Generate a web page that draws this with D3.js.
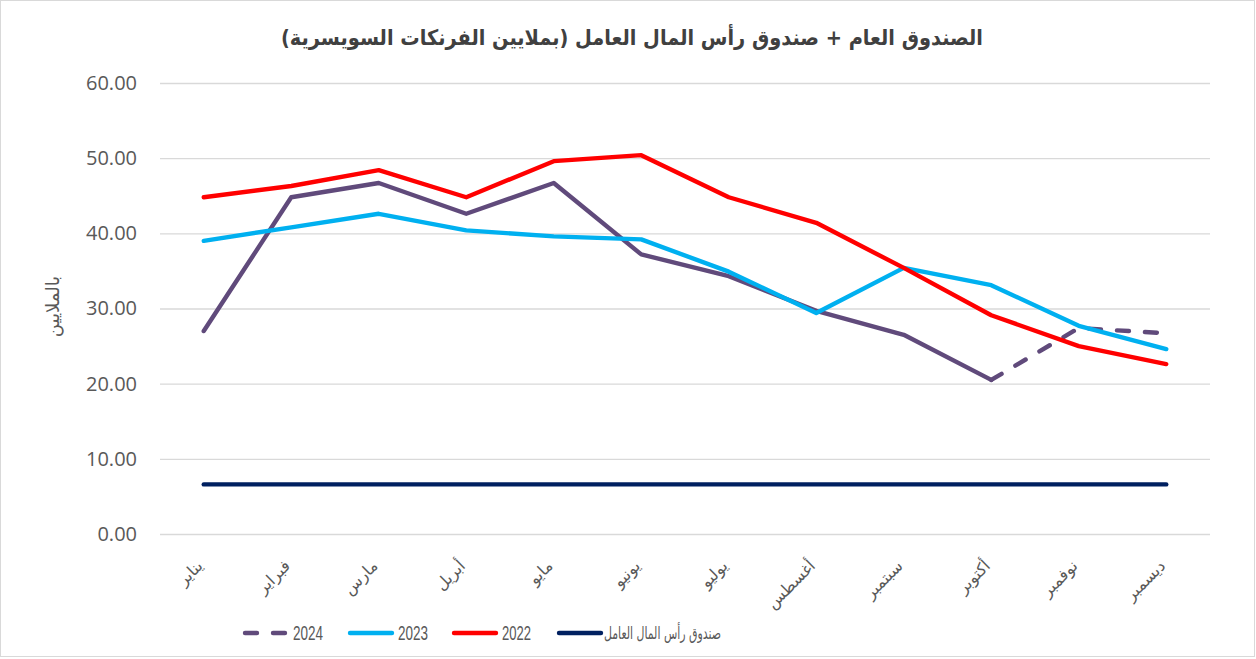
<!DOCTYPE html>
<html>
<head>
<meta charset="utf-8">
<script src="https://cdn.jsdelivr.net/npm/d3@7"></script>
<style>
  body { margin: 0; background: #fff; }
  svg { display: block; font-family: "Liberation Sans", "DejaVu Sans", sans-serif; }
</style>
</head>
<body>
<svg id="chart" width="1256" height="659"></svg>
<script>
// DATA
var months = ["يناير", "فبراير", "مارس", "أبريل", "مايو", "يونيو", "يوليو", "أغسطس", "سبتمبر", "أكتوبر", "نوفمبر", "ديسمبر"];
var yTicks = [0, 10, 20, 30, 40, 50, 60];
var values2024 = [27.0, 44.8, 46.7, 42.6, 46.7, 37.2, 34.3, 29.7, 26.5, 20.5, 27.4, 26.7];
var values2023 = [39.0, 40.8, 42.6, 40.4, 39.6, 39.2, 34.9, 29.4, 35.4, 33.1, 27.7, 24.6];
var values2022 = [44.8, 46.3, 48.4, 44.8, 49.6, 50.4, 44.8, 41.4, 35.4, 29.1, 25.0, 22.6];
var valuesCapital = [6.6, 6.6, 6.6, 6.6, 6.6, 6.6, 6.6, 6.6, 6.6, 6.6, 6.6, 6.6];
var lastActual2024 = 9; // Oct, after that the line is dashed

var color_2024 = "#604a7b";
var color_2023 = "#00b0f0";
var color_2022 = "#ff0000";
var color_capital = "#002060";
var color_text = "#595959";

var font_arabic = "'DejaVu Sans Condensed', 'DejaVu Sans', sans-serif";

// SETUP
var svg = d3.select("#chart"),
    margin = { top: 83, right: 46, bottom: 125, left: 160 },
    width = 1256 - margin.left - margin.right,
    height = 659 - margin.top - margin.bottom;

// outer chart border
svg.append("rect")
    .attr("x", 0.5).attr("y", 0.5)
    .attr("width", 1254).attr("height", 656)
    .attr("fill", "none")
    .attr("stroke", "#d9d9d9");

// title
svg.append("text")
    .attr("x", 632)
    .attr("y", 45)
    .attr("text-anchor", "middle")
    .attr("font-size", "21.5px")
    .attr("font-weight", "bold")
    .attr("fill", "#404040")
    .attr("font-family", font_arabic)
    .text("الصندوق العام + صندوق رأس المال العامل (بملايين الفرنكات السويسرية)");

var g = svg.append("g").attr("transform", "translate(" + margin.left + "," + margin.top + ")");

var x = d3.scalePoint().domain(d3.range(months.length)).range([0, width]).padding(0.5);
var y = d3.scaleLinear().domain([0, 60]).range([height, 0]);

// GRID + Y AXIS
var yAxis = g.append("g")
    .call(d3.axisLeft(y).tickValues(yTicks).tickFormat(d3.format(".2f")).tickSize(-width).tickPadding(23));
yAxis.select(".domain").remove();
yAxis.selectAll(".tick line").attr("stroke", "#d9d9d9").attr("stroke-width", 1.3);
yAxis.selectAll(".tick text")
    .attr("fill", color_text)
    .attr("font-size", "20px")
    .attr("font-family", "'Open Sans', sans-serif");

// y axis title
svg.append("text")
    .attr("transform", "translate(59," + (margin.top + height / 2 - 2) + ") rotate(-90)")
    .attr("text-anchor", "middle")
    .attr("font-size", "18px")
    .attr("fill", color_text)
    .attr("font-family", "'DejaVu Sans', sans-serif")
    .text("بالملايين");

// X LABELS
g.append("g").selectAll("text")
    .data(months)
    .enter().append("text")
    .attr("transform", function (d, i) { return "translate(" + (x(i) - 4) + "," + (height + 29) + ") rotate(-45)"; })
    .attr("text-anchor", "end")
    .attr("dy", "0.35em")
    .attr("font-size", "16px")
    .attr("fill", color_text)
    .attr("font-family", "'DejaVu Sans', sans-serif")
    .text(function (d) { return d; });

// LINES
var line = d3.line()
    .x(function (d) { return x(d.i); })
    .y(function (d) { return y(d.v); });

function toPoints(arr) { return arr.map(function (v, i) { return { i: i, v: v }; }); }

function drawLine(points, color, dash) {
    g.append("path")
        .datum(points)
        .attr("d", line)
        .attr("fill", "none")
        .attr("stroke", color)
        .attr("stroke-width", 4.4)
        .attr("stroke-linejoin", "round")
        .attr("stroke-linecap", "round")
        .attr("stroke-dasharray", dash || null);
}

var pts2024 = toPoints(values2024);
drawLine(pts2024.slice(0, lastActual2024 + 1), color_2024);
drawLine(pts2024.slice(lastActual2024), color_2024, "12,16");
drawLine(toPoints(values2023), color_2023);
drawLine(toPoints(values2022), color_2022);
drawLine(toPoints(valuesCapital), color_capital);

// LEGEND
var legendItems = [
    { label: "2024", color: color_2024, dash: "12,16", x: 245, w: 30 },
    { label: "2023", color: color_2023, dash: null, x: 350, w: 30 },
    { label: "2022", color: color_2022, dash: null, x: 454, w: 29 },
    { label: "صندوق رأس المال العامل", color: color_capital, dash: null, x: 559, w: 117 }
];
var legend = svg.append("g");
legendItems.forEach(function (d) {
    legend.append("line")
        .attr("x1", d.x).attr("x2", d.x + 42)
        .attr("y1", 633).attr("y2", 633)
        .attr("stroke", d.color)
        .attr("stroke-width", 4.4)
        .attr("stroke-linecap", "round")
        .attr("stroke-dasharray", d.dash);
    var isNum = /\d/.test(d.label);
    legend.append("text")
        .attr("x", d.x + (isNum ? 48 : 45))
        .attr("y", 633)
        .attr("dy", "0.35em")
        .attr("font-size", isNum ? "20px" : "17px")
        .attr("fill", color_text)
        .attr("font-family", isNum ? "'Liberation Sans', sans-serif" : font_arabic)
        .attr("textLength", d.w)
        .attr("lengthAdjust", "spacingAndGlyphs")
        .text(d.label);
});
</script>
</body>
</html>
